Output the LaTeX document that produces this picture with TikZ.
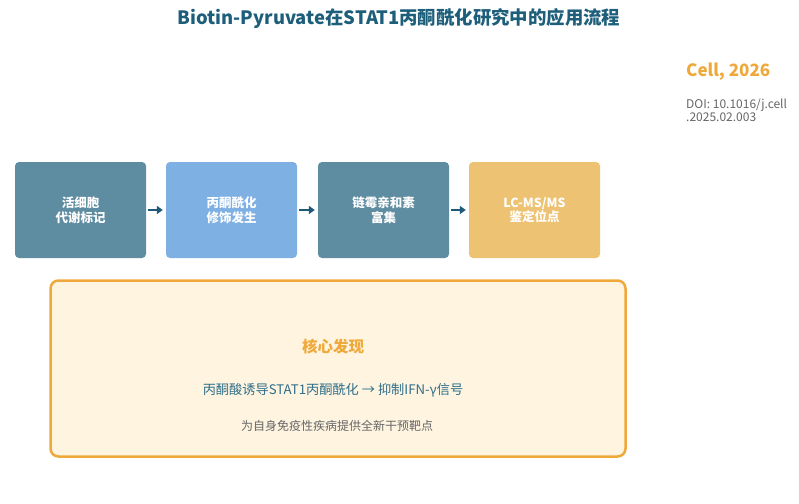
\documentclass[tikz,border=0pt]{standalone}
\usepackage{fontspec}
\setmainfont{Noto Sans CJK SC}
\usetikzlibrary{arrows.meta}
\definecolor{titleC}{HTML}{1D5E7B}
\definecolor{tealbox}{HTML}{5E8CA0}
\definecolor{bluebox}{HTML}{7FB0E3}
\definecolor{goldbox}{HTML}{EDC272}
\definecolor{orangeC}{HTML}{EFA93A}
\definecolor{creamC}{HTML}{FEF4E0}
\definecolor{arrowC}{HTML}{1E5A78}
\definecolor{midC}{HTML}{2E6F8A}
\definecolor{greyC}{HTML}{666666}
\tikzset{
  stepbox/.style={rounded corners=4pt, minimum width=131pt, minimum height=96pt,
    inner sep=0pt, text=white, align=center, font=\fontsize{12.5}{14.5}\selectfont\bfseries},
  flowarrow/.style={-{Triangle[length=6pt,width=8pt]}, line width=2.8pt, draw=arrowC, shorten <=2pt, shorten >=3pt},
}
\begin{document}
\begin{tikzpicture}[x=1pt,y=-1pt]
\useasboundingbox (0,0) rectangle (799,503);
\fill[white] (0,0) rectangle (799,503);
\node[text=titleC, font=\fontsize{18.4}{20}\selectfont\bfseries] (title) at (399,19) {Biotin-Pyruvate在STAT1丙酮酰化研究中的应用流程};
\node[anchor=west, text=orangeC, font=\fontsize{17}{19}\selectfont\bfseries, inner sep=0pt] (cell) at (686,72) {Cell, 2026};
\node[anchor=north west, text=greyC, align=left, font=\fontsize{12}{13}\selectfont, inner sep=0pt] (doi) at (686,99) {DOI: 10.1016/j.cell\\.2025.02.003};
\node[stepbox, fill=tealbox] (s1) at (80.5,210) {活细胞\\代谢标记};
\node[stepbox, fill=bluebox] (s2) at (231.5,210) {丙酮酰化\\修饰发生};
\node[stepbox, fill=tealbox] (s3) at (383.5,210) {链霉亲和素\\富集};
\node[stepbox, fill=goldbox] (s4) at (534.5,210) {LC-MS/MS\\鉴定位点};
\draw[flowarrow] (s1.east) -- (s2.west);
\draw[flowarrow] (s2.east) -- (s3.west);
\draw[flowarrow] (s3.east) -- (s4.west);
\node[draw=orangeC, fill=creamC, line width=2.5pt, rounded corners=8pt, minimum width=575pt, minimum height=176pt] (core) at (338,368.5) {};
\node[text=orangeC, font=\fontsize{15.5}{18}\selectfont\bfseries] (k1) at (333,347) {核心发现};
\node[text=midC, font=\fontsize{13.2}{15}\selectfont] (k2) at (333,390) {丙酮酸诱导STAT1丙酮酰化 → 抑制IFN-γ信号};
\node[text=greyC, font=\fontsize{12}{13}\selectfont] (k3) at (337,426) {为自身免疫性疾病提供全新干预靶点};
\end{tikzpicture}
\end{document}
